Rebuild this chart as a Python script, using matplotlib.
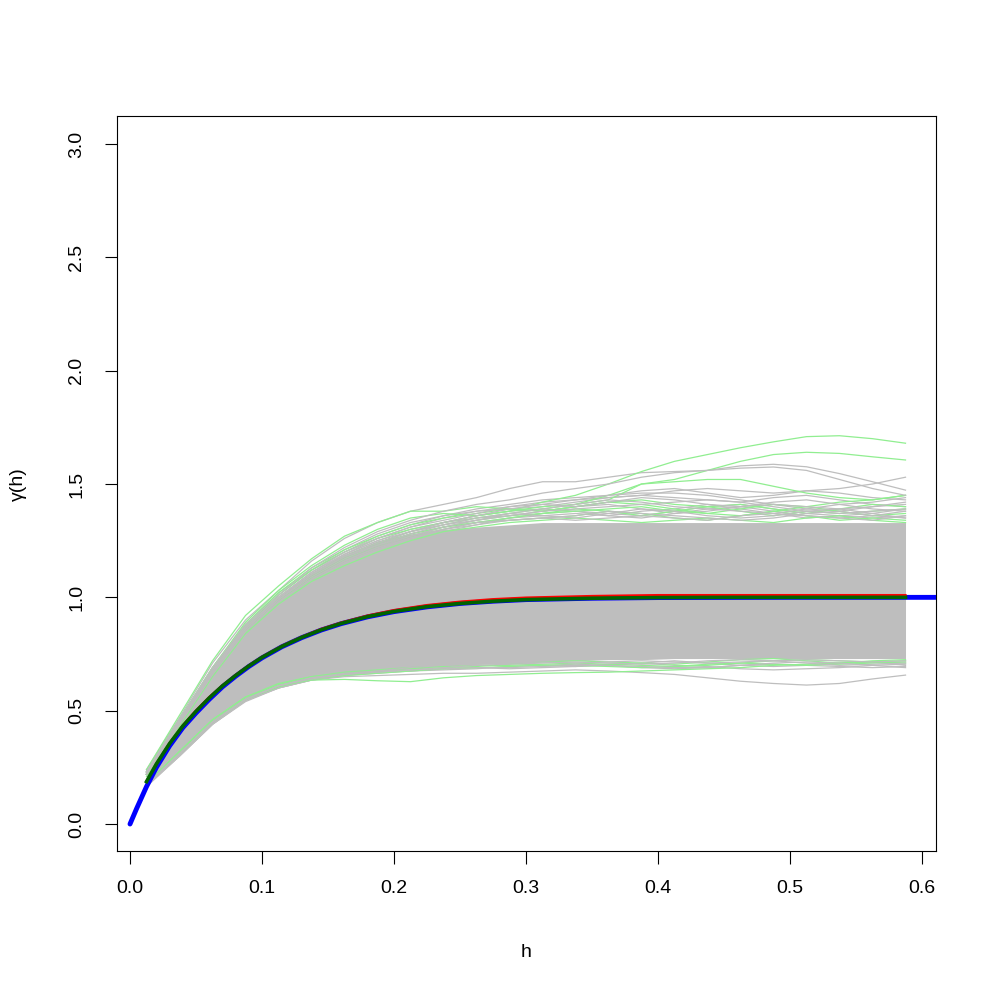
import numpy as np
import matplotlib
matplotlib.use("Agg")
import matplotlib.pyplot as plt

plt.rcParams['font.family'] = ['Liberation Sans', 'DejaVu Sans']

# lag distances of the empirical variograms
lags = [0.0125, 0.0375, 0.0625, 0.0875, 0.1125, 0.1375, 0.1625, 0.1875,
        0.2125, 0.2375, 0.2625, 0.2875, 0.3125, 0.3375, 0.3625, 0.3875,
        0.4125, 0.4375, 0.4625, 0.4875, 0.5125, 0.5375, 0.5625, 0.5875]

# dense part of the simulated variograms
band_lo = [0.165, 0.30, 0.44, 0.545, 0.60, 0.635, 0.655, 0.67, 0.685, 0.695, 0.705, 0.71,
           0.715, 0.72, 0.725, 0.725, 0.73, 0.73, 0.73, 0.73, 0.73, 0.73, 0.73, 0.73]
band_hi = [0.24, 0.46, 0.69, 0.87, 1.00, 1.11, 1.19, 1.25, 1.28, 1.30, 1.31, 1.32,
           1.33, 1.33, 1.33, 1.33, 1.33, 1.33, 1.33, 1.33, 1.33, 1.33, 1.33, 1.33]

# single simulations sticking out of the band (grey)
grey_sims = [
    [0.24, 0.47, 0.71, 0.90, 1.03, 1.16, 1.26, 1.33, 1.38, 1.41, 1.44, 1.48,
     1.51, 1.51, 1.53, 1.55, 1.555, 1.56, 1.58, 1.587, 1.576, 1.546, 1.51, 1.473],
    [0.23, 0.46, 0.69, 0.88, 1.01, 1.13, 1.22, 1.29, 1.34, 1.38, 1.41, 1.43,
     1.46, 1.48, 1.50, 1.53, 1.55, 1.56, 1.57, 1.575, 1.56, 1.52, 1.48, 1.45],
    [0.23, 0.45, 0.68, 0.87, 1.00, 1.11, 1.19, 1.26, 1.31, 1.35, 1.38, 1.40,
     1.42, 1.43, 1.44, 1.45, 1.47, 1.48, 1.47, 1.46, 1.47, 1.48, 1.50, 1.53],
    [0.22, 0.45, 0.67, 0.86, 0.99, 1.10, 1.18, 1.24, 1.29, 1.33, 1.36, 1.39,
     1.41, 1.43, 1.45, 1.46, 1.46, 1.45, 1.43, 1.41, 1.40, 1.39, 1.40, 1.42],
    [0.23, 0.46, 0.69, 0.88, 1.02, 1.12, 1.20, 1.27, 1.32, 1.36, 1.38, 1.39,
     1.40, 1.42, 1.44, 1.45, 1.44, 1.43, 1.42, 1.44, 1.45, 1.43, 1.41, 1.40],
    [0.22, 0.44, 0.66, 0.85, 0.98, 1.08, 1.16, 1.22, 1.27, 1.31, 1.34, 1.36,
     1.38, 1.39, 1.40, 1.41, 1.42, 1.43, 1.42, 1.40, 1.38, 1.37, 1.38, 1.39],
    [0.22, 0.44, 0.66, 0.84, 0.97, 1.07, 1.15, 1.21, 1.25, 1.29, 1.32, 1.35,
     1.37, 1.38, 1.37, 1.36, 1.38, 1.40, 1.41, 1.39, 1.37, 1.36, 1.35, 1.36],
    [0.23, 0.45, 0.67, 0.86, 0.99, 1.09, 1.17, 1.23, 1.28, 1.32, 1.35, 1.37,
     1.36, 1.35, 1.37, 1.39, 1.38, 1.36, 1.35, 1.36, 1.38, 1.39, 1.37, 1.35],
    [0.23, 0.45, 0.68, 0.88, 1.01, 1.12, 1.21, 1.28, 1.33, 1.36, 1.39, 1.41,
     1.43, 1.44, 1.45, 1.47, 1.48, 1.46, 1.44, 1.45, 1.47, 1.46, 1.44, 1.43],
    [0.22, 0.45, 0.67, 0.87, 1.00, 1.11, 1.20, 1.26, 1.31, 1.34, 1.37, 1.40,
     1.41, 1.40, 1.42, 1.44, 1.43, 1.41, 1.40, 1.42, 1.43, 1.41, 1.42, 1.44],
    [0.22, 0.44, 0.67, 0.86, 0.99, 1.10, 1.19, 1.25, 1.30, 1.33, 1.35, 1.36,
     1.38, 1.40, 1.41, 1.39, 1.37, 1.38, 1.40, 1.41, 1.39, 1.38, 1.40, 1.41],
    [0.23, 0.46, 0.68, 0.87, 1.00, 1.11, 1.19, 1.25, 1.29, 1.32, 1.34, 1.37,
     1.39, 1.41, 1.43, 1.42, 1.40, 1.39, 1.38, 1.37, 1.39, 1.41, 1.39, 1.38],
    [0.22, 0.44, 0.66, 0.85, 0.98, 1.09, 1.17, 1.24, 1.28, 1.31, 1.33, 1.35,
     1.36, 1.37, 1.36, 1.38, 1.39, 1.41, 1.39, 1.37, 1.35, 1.36, 1.37, 1.39],
    [0.22, 0.45, 0.67, 0.86, 0.99, 1.10, 1.18, 1.23, 1.27, 1.30, 1.33, 1.34,
     1.35, 1.34, 1.35, 1.36, 1.35, 1.34, 1.36, 1.37, 1.36, 1.35, 1.34, 1.36],
    [0.23, 0.45, 0.68, 0.87, 1.00, 1.10, 1.18, 1.24, 1.29, 1.33, 1.36, 1.38,
     1.39, 1.38, 1.36, 1.35, 1.37, 1.39, 1.40, 1.38, 1.36, 1.35, 1.36, 1.38],
    [0.22, 0.44, 0.66, 0.85, 0.98, 1.08, 1.16, 1.22, 1.26, 1.30, 1.32, 1.34,
     1.35, 1.36, 1.38, 1.37, 1.36, 1.35, 1.34, 1.35, 1.37, 1.38, 1.36, 1.35],
    [0.17, 0.30, 0.44, 0.54, 0.60, 0.635, 0.65, 0.655, 0.66, 0.665, 0.665, 0.67,
     0.675, 0.68, 0.675, 0.668, 0.66, 0.645, 0.63, 0.62, 0.613, 0.62, 0.64, 0.657],
    [0.17, 0.31, 0.45, 0.55, 0.61, 0.645, 0.665, 0.675, 0.68, 0.685, 0.69, 0.69,
     0.695, 0.70, 0.70, 0.695, 0.69, 0.69, 0.70, 0.71, 0.715, 0.71, 0.70, 0.69],
    [0.175, 0.32, 0.46, 0.56, 0.62, 0.655, 0.675, 0.69, 0.70, 0.705, 0.71, 0.71,
     0.70, 0.695, 0.70, 0.71, 0.72, 0.71, 0.70, 0.695, 0.70, 0.71, 0.715, 0.70],
    [0.17, 0.31, 0.45, 0.55, 0.61, 0.645, 0.66, 0.67, 0.68, 0.69, 0.70, 0.705,
     0.71, 0.715, 0.71, 0.705, 0.71, 0.72, 0.725, 0.72, 0.71, 0.70, 0.705, 0.71],
    [0.17, 0.305, 0.445, 0.545, 0.605, 0.64, 0.66, 0.67, 0.675, 0.68, 0.685, 0.695,
     0.70, 0.705, 0.70, 0.69, 0.685, 0.69, 0.70, 0.705, 0.70, 0.695, 0.69, 0.695],
    [0.175, 0.31, 0.45, 0.55, 0.61, 0.64, 0.66, 0.675, 0.69, 0.70, 0.705, 0.71,
     0.715, 0.71, 0.715, 0.72, 0.715, 0.71, 0.715, 0.72, 0.725, 0.72, 0.715, 0.72],
    [0.17, 0.30, 0.44, 0.545, 0.60, 0.635, 0.655, 0.665, 0.675, 0.685, 0.69, 0.685,
     0.69, 0.695, 0.705, 0.71, 0.70, 0.695, 0.685, 0.68, 0.685, 0.69, 0.70, 0.705],
]

# simulations drawn in light green
green_sims = [
    [0.22, 0.44, 0.67, 0.87, 1.01, 1.12, 1.20, 1.26, 1.30, 1.33, 1.36, 1.38,
     1.42, 1.45, 1.50, 1.555, 1.60, 1.63, 1.66, 1.686, 1.709, 1.713, 1.70, 1.68],
    [0.22, 0.44, 0.66, 0.85, 0.99, 1.10, 1.18, 1.24, 1.29, 1.32, 1.35, 1.37,
     1.39, 1.41, 1.45, 1.50, 1.52, 1.56, 1.60, 1.63, 1.64, 1.635, 1.62, 1.606],
    [0.24, 0.48, 0.72, 0.92, 1.05, 1.17, 1.27, 1.33, 1.38, 1.38, 1.40, 1.39,
     1.38, 1.40, 1.42, 1.41, 1.39, 1.37, 1.36, 1.38, 1.40, 1.42, 1.43, 1.45],
    [0.23, 0.46, 0.69, 0.89, 1.03, 1.14, 1.23, 1.30, 1.35, 1.37, 1.36, 1.38,
     1.40, 1.41, 1.43, 1.50, 1.51, 1.52, 1.52, 1.49, 1.46, 1.44, 1.43, 1.45],
    [0.22, 0.45, 0.67, 0.86, 0.99, 1.09, 1.17, 1.23, 1.28, 1.31, 1.33, 1.35,
     1.37, 1.38, 1.39, 1.40, 1.38, 1.37, 1.39, 1.41, 1.40, 1.38, 1.36, 1.37],
    [0.22, 0.44, 0.66, 0.85, 0.98, 1.08, 1.16, 1.22, 1.27, 1.30, 1.33, 1.34,
     1.35, 1.36, 1.38, 1.37, 1.35, 1.34, 1.36, 1.38, 1.36, 1.34, 1.35, 1.34],
    [0.21, 0.43, 0.65, 0.84, 0.97, 1.07, 1.14, 1.20, 1.25, 1.29, 1.31, 1.33,
     1.34, 1.35, 1.34, 1.33, 1.34, 1.35, 1.34, 1.33, 1.35, 1.36, 1.34, 1.33],
    [0.23, 0.46, 0.69, 0.88, 1.02, 1.13, 1.21, 1.27, 1.32, 1.35, 1.37, 1.39,
     1.38, 1.40, 1.42, 1.43, 1.41, 1.40, 1.41, 1.39, 1.37, 1.39, 1.41, 1.40],
    [0.22, 0.44, 0.66, 0.86, 0.99, 1.09, 1.17, 1.23, 1.27, 1.31, 1.34, 1.36,
     1.37, 1.39, 1.38, 1.36, 1.38, 1.40, 1.38, 1.36, 1.38, 1.37, 1.38, 1.39],
    [0.175, 0.31, 0.45, 0.55, 0.61, 0.635, 0.638, 0.632, 0.628, 0.645, 0.655, 0.66,
     0.665, 0.668, 0.67, 0.675, 0.68, 0.685, 0.69, 0.70, 0.705, 0.71, 0.715, 0.72],
    [0.18, 0.32, 0.46, 0.56, 0.62, 0.65, 0.67, 0.68, 0.69, 0.695, 0.70, 0.70,
     0.705, 0.71, 0.705, 0.70, 0.695, 0.70, 0.71, 0.72, 0.725, 0.72, 0.715, 0.71],
    [0.175, 0.32, 0.46, 0.56, 0.615, 0.65, 0.665, 0.675, 0.685, 0.69, 0.695, 0.705,
     0.715, 0.72, 0.715, 0.71, 0.705, 0.715, 0.725, 0.73, 0.72, 0.71, 0.72, 0.725],
    [0.175, 0.31, 0.45, 0.55, 0.605, 0.64, 0.655, 0.665, 0.675, 0.685, 0.69, 0.695,
     0.70, 0.70, 0.695, 0.69, 0.695, 0.705, 0.71, 0.705, 0.70, 0.705, 0.71, 0.715],
]

# mean of simulations (red) and of the fitted ones (dark green), finer h grid
mean_h = [0.0125, 0.02, 0.03, 0.04, 0.05, 0.06, 0.07, 0.08, 0.09, 0.1, 0.115, 0.13,
          0.145, 0.16, 0.18, 0.2, 0.225, 0.25, 0.275, 0.3, 0.35, 0.4, 0.45, 0.5, 0.5875]
sim_mean = [0.19, 0.268, 0.358, 0.436, 0.501, 0.56, 0.612, 0.658, 0.70, 0.738, 0.786, 0.826,
            0.861, 0.889, 0.92, 0.944, 0.966, 0.981, 0.992, 0.999, 1.006, 1.01, 1.01, 1.01, 1.01]
fit_mean = [0.187, 0.265, 0.355, 0.432, 0.497, 0.556, 0.609, 0.655, 0.697, 0.735, 0.783, 0.823,
            0.857, 0.885, 0.915, 0.938, 0.959, 0.973, 0.983, 0.99, 0.996, 0.999, 1.0, 1.0, 1.0]

# theoretical model
model_h = [0, 0.005, 0.0125, 0.02, 0.03, 0.04, 0.05, 0.06, 0.07, 0.08, 0.09, 0.1, 0.115,
           0.13, 0.145, 0.16, 0.18, 0.2, 0.225, 0.25, 0.275, 0.3, 0.35, 0.4, 0.5, 0.62]
model_g = [0, 0.068, 0.165, 0.25, 0.345, 0.425, 0.49, 0.55, 0.605, 0.652, 0.695, 0.733, 0.782,
           0.822, 0.856, 0.884, 0.914, 0.937, 0.958, 0.973, 0.983, 0.99, 0.996, 0.999, 1.0, 1.0]

fig = plt.figure(figsize=(9.96, 9.96), dpi=100)
ax = fig.add_axes([117 / 996, 1 - 851 / 996, 819 / 996, 735 / 996])

ax.fill_between(lags, band_lo, band_hi, color='#BEBEBE', lw=0, zorder=1)
# grey and green simulations interleaved so green shows through in places
for i, s in enumerate(grey_sims):
    ax.plot(lags, s, color='#BEBEBE', lw=0.9, zorder=2 + (i % 2) * 2)
for s in green_sims:
    ax.plot(lags, s, color='#90EE90', lw=0.9, zorder=3)

ax.plot(model_h, model_g, color='#0000FF', lw=3.5, zorder=5, solid_capstyle='round')
ax.plot(mean_h, sim_mean, color='#FF0000', lw=1.6, zorder=6)
ax.plot(mean_h, fit_mean, color='#006400', lw=2.6, zorder=7)

ax.set_xlim(-0.00985, 0.6106)
ax.set_ylim(-0.119, 3.1235)
ax.set_xticks(np.arange(0, 0.61, 0.1))
ax.set_xticklabels(['0.0', '0.1', '0.2', '0.3', '0.4', '0.5', '0.6'])
ax.set_yticks(np.arange(0, 3.01, 0.5))
ax.set_yticklabels(['0.0', '0.5', '1.0', '1.5', '2.0', '2.5', '3.0'], rotation=90, va='center')
ax.tick_params(length=9, width=0.8, labelsize=14)
ax.tick_params(axis='x', pad=12)
ax.tick_params(axis='y', pad=14)
for sp in ax.spines.values():
    sp.set_linewidth(0.8)

fig.text(526.5 / 996, 1 - 952 / 996, 'h', ha='center', va='center', fontsize=14)
fig.text(18 / 996, 1 - 484 / 996, 'γ(h)', ha='center', va='center', rotation=90, fontsize=14)

fig.savefig('out.png', dpi=100)
